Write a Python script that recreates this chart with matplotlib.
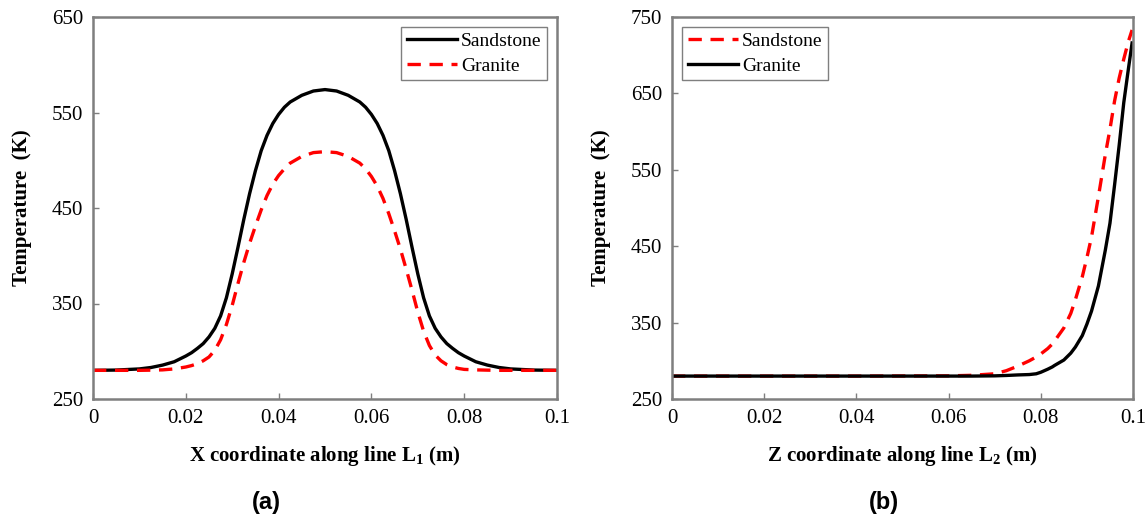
import matplotlib
matplotlib.use("Agg")
import matplotlib.pyplot as plt

plt.rcParams['font.family'] = 'Liberation Serif'
plt.rcParams['mathtext.fontset'] = 'custom'
plt.rcParams['mathtext.bf'] = 'Liberation Serif:bold'
plt.rcParams['mathtext.rm'] = 'Liberation Serif:bold'

# (a) temperature along line L1 (K)
x_l1 = [0, 0.005, 0.01, 0.0125, 0.015, 0.0175,
        0.02, 0.02125, 0.0225, 0.02375, 0.025, 0.02625, 0.0275, 0.02875, 0.03,
        0.03125, 0.0325, 0.03375, 0.035, 0.03625, 0.0375, 0.03875, 0.04,
        0.04125, 0.0425, 0.045, 0.0475, 0.05,
        0.0525, 0.055,
        0.0575, 0.05875, 0.06, 0.06125, 0.0625, 0.06375, 0.065, 0.06625,
        0.0675, 0.06875, 0.07, 0.07125, 0.0725, 0.07375, 0.075, 0.07625,
        0.0775, 0.07875, 0.08,
        0.0825, 0.085, 0.0875, 0.09, 0.095, 0.1]
sand_l1 = [280, 280.3, 281.5, 283, 285.5, 289,
           295, 298.5, 303, 308, 315, 324, 337, 356, 381,
           409, 438, 465, 489, 510, 526, 538.5, 548,
           555.5, 561, 568, 572.5, 574,
           572.5, 568,
           561, 555.5, 548, 538.5, 526, 510, 489, 465,
           438, 409, 381, 356, 337, 324, 315, 308,
           303, 298.5, 295,
           289, 285.5, 283, 281.5, 280.3, 280]
gran_l1 = [280, 280, 280, 280.2, 280.5, 281.5,
           283.5, 285, 287, 290, 294, 301, 312, 328, 348,
           371, 393, 413, 431, 448, 463, 475, 484,
           491, 497, 504, 508, 509,
           508, 504,
           497, 491, 483, 473, 460, 444, 426, 407,
           386, 364, 341, 321, 306, 296, 290, 286,
           283.5, 282, 281,
           280.5, 280.2, 280, 280, 280, 280]

# (b) temperature along line L2 (K)
z_l2 = [0, 0.02, 0.04, 0.06, 0.065, 0.07, 0.0725, 0.075, 0.0775, 0.079, 0.08,
        0.0815, 0.0825, 0.083, 0.085, 0.0865, 0.0875, 0.089, 0.09, 0.091,
        0.0925, 0.094, 0.095, 0.096, 0.097, 0.098, 0.099, 0.0998]
sand_l2 = [280, 280, 280, 280.3, 281, 283, 287, 293, 300, 305, 309,
           316, 322, 326, 343, 362, 380, 410, 435, 462,
           515, 570, 603, 640, 670, 695, 718, 733]
gran_l2 = [280, 280, 280, 280, 280, 280.3, 280.8, 281.5, 282, 283, 285,
           289, 292, 294, 301, 310, 318, 333, 348, 365,
           398, 445, 480, 530, 582, 638, 682, 716]

xticks = [0, 0.02, 0.04, 0.06, 0.08, 0.1]
xticklabels = ['0', '0.02', '0.04', '0.06', '0.08', '0.1']

fig = plt.figure(figsize=(11.48, 5.28), dpi=100)
ax1 = fig.add_axes([93/1148, 1-399/528, 464/1148, 382/528])
ax2 = fig.add_axes([672/1148, 1-399/528, 461/1148, 382/528])

dash = (0, (4, 2.6))
ax1.plot(x_l1, sand_l1, color='black', lw=2.4, label='Sandstone')
ax1.plot(x_l1, gran_l1, color='red', lw=2.4, ls=dash, label='Granite')

ax2.plot(z_l2, sand_l2, color='red', lw=2.4, ls=dash, label='Sandstone')
ax2.plot(z_l2, gran_l2, color='black', lw=2.4, label='Granite')

ax1.set_ylim(250, 650)
ax1.set_yticks([250, 350, 450, 550, 650])
ax2.set_ylim(250, 750)
ax2.set_yticks([250, 350, 450, 550, 650, 750])

for ax, lab, loc in [(ax1, r'X coordinate along line L$_\mathbf{1}$ (m)', 'upper right'),
                     (ax2, r'Z coordinate along line L$_\mathbf{2}$ (m)', 'upper left')]:
    ax.set_xlim(0, 0.1)
    ax.set_xticks(xticks)
    ax.set_xticklabels(xticklabels)
    for s in ax.spines.values():
        s.set_color('#7f7f7f')
        s.set_linewidth(1.8)
    ax.tick_params(direction='in', length=4, width=1, color='#7f7f7f',
                   labelsize=15, pad=7)
    ax.set_xlabel(lab, fontsize=15, fontweight='bold', labelpad=12)
    ax.set_ylabel('Temperature  (K)', fontsize=15, fontweight='bold', labelpad=14)
    leg = ax.legend(loc=loc, fontsize=14, fancybox=False, framealpha=1,
                    borderpad=0.3, handlelength=2.6, handletextpad=0.2,
                    labelspacing=0.35, borderaxespad=0.5)
    leg.get_frame().set_edgecolor('#7f7f7f')
    leg.get_frame().set_linewidth(1)

fig.text(266/1148, 1-503/528, '(a)', family='Liberation Sans', fontweight='bold',
         fontsize=17, ha='center', va='center')
fig.text(884/1148, 1-503/528, '(b)', family='Liberation Sans', fontweight='bold',
         fontsize=17, ha='center', va='center')

fig.savefig('out.png', dpi=100)
